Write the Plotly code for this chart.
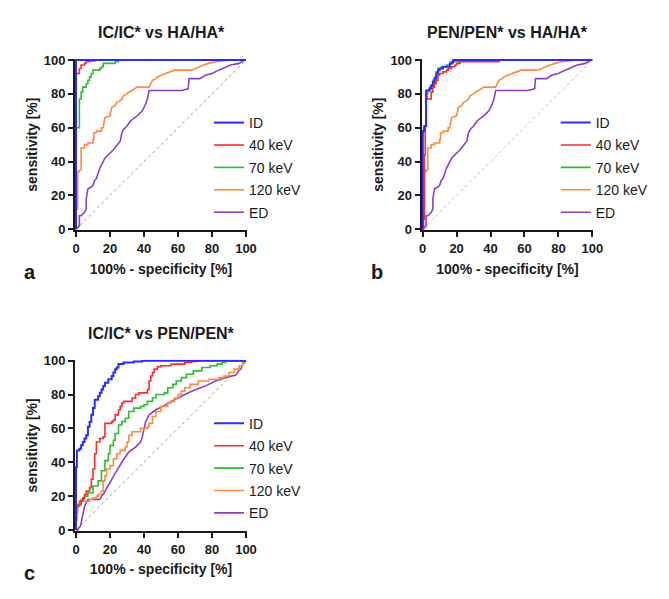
import plotly.graph_objects as go

OFF = 8  # the page body margin places the figure 8px from the window edge
W, H = 669 - OFF, 599 - OFF
PAD = 0.6  # data units of padding so lines at 0/100 are not clipped

# ---------------- data ----------------
series_names = ["ID", "40 keV", "70 keV", "120 keV", "ED"]
series_colors = ["#2B2BFF", "#FF2A2A", "#2DBE2D", "#FF8A3D", "#8E3FC8"]
tick_vals = [0, 20, 40, 60, 80, 100]
panel_titles = ["IC/IC* vs HA/HA*", "PEN/PEN* vs HA/HA*", "IC/IC* vs PEN/PEN*"]
panel_letters = ["a", "b", "c"]
diag_x = [0, 100]
diag_y = [0, 100]

# Panel a: IC/IC* vs HA/HA*
a_id_x = [0, 0, 100]
a_id_y = [0, 100, 100]
a_40_x = [0, 0, 2, 2, 3, 3, 5, 5, 6, 6, 8, 8, 11, 11, 100]
a_40_y = [0, 92, 92, 95, 95, 97, 97, 98, 98, 99, 99, 99.5, 99.5, 100, 100]
a_70_x = [0, 0, 2, 2, 3, 3, 4, 4, 6, 6, 7, 7, 8, 8, 9, 9, 10, 10, 14, 14, 15, 15, 16, 16, 23, 23, 25, 25, 100]
a_70_y = [0, 60, 60, 77, 77, 81, 81, 84, 84, 86, 86, 88, 88, 90, 90, 92, 92, 94, 94, 95, 95, 96, 96, 98, 98, 99, 99, 100, 100]
a_120_x = [0, 0, 1, 1, 2, 2, 3, 3, 5, 5, 7, 7, 10, 10, 10.5, 10.5, 12, 12, 15, 15, 16, 17, 20, 21, 23, 24, 26, 27, 28, 30, 31, 33, 36, 43, 44, 45, 47, 48, 50, 53, 56, 58, 68, 70, 72, 75, 78, 82, 86, 90, 100]
a_120_y = [0, 12, 12, 34, 34, 35, 35, 48, 48, 50, 50, 51, 51, 53, 53, 57, 57, 58, 58, 60, 60, 66, 67, 72, 73, 75, 76, 77, 79, 80, 81, 82, 84, 84, 86, 88, 89, 90, 91, 92, 93, 94, 94, 95, 96, 97, 98, 99, 99.5, 100, 100]
a_ed_x = [0, 1, 2, 2, 3, 5, 6, 6, 7, 9, 10, 11, 12, 13, 14, 17, 22, 26, 27, 28, 30, 32, 36, 39, 41, 42, 42.5, 43, 62, 66, 66.5, 73, 76, 80, 84, 88, 91, 96, 99, 100]
a_ed_y = [0, 1, 2, 8, 8, 10, 12, 18, 24, 25, 26, 29, 30, 33, 36, 42, 47, 52, 57, 59, 61, 64, 67, 70, 74, 77, 81, 82, 82, 83, 89, 89, 91, 92, 94, 96, 97, 98, 100, 100]

# Panel b: PEN/PEN* vs HA/HA*
b_id_x = [0, 0, 1, 1, 2, 2, 4, 4, 5, 5, 6, 6, 7, 7, 8, 8, 9, 9, 10, 10, 12, 12, 16, 16, 17, 17, 18, 18, 100]
b_id_y = [0, 58, 58, 61, 61, 82, 82, 83, 83, 85, 85, 87, 87, 89, 89, 92, 92, 94, 94, 95, 95, 96, 96, 98, 98, 99, 99, 100, 100]
b_40_x = [0, 0.5, 0.5, 1, 1, 1.5, 1.5, 2, 2, 5, 5, 6, 6, 7, 7, 8, 8, 9, 9, 10, 10, 12, 12, 14, 14, 15, 15, 17, 17, 19, 19, 20, 20, 22, 22, 45, 45, 100]
b_40_y = [0, 0, 6, 6, 44, 44, 61, 61, 77, 77, 81, 81, 84, 84, 86, 86, 88, 88, 91, 91, 92, 92, 93, 93, 94, 94, 95, 95, 96, 96, 97, 97, 98, 98, 99, 99, 100, 100]
b_70_x = [0, 0, 0.5, 0.5, 1, 1, 2, 2, 2.5, 2.5, 3, 3, 4, 4, 5, 5, 6, 6, 7, 7, 8, 8, 9, 9, 11, 11, 14, 14, 16, 16, 18, 18, 22, 22, 25, 25, 100]
b_70_y = [0, 57, 57, 60, 60, 61, 61, 77, 77, 80, 80, 82, 82, 84, 84, 85, 85, 88, 88, 90, 90, 93, 93, 95, 95, 96, 96, 97, 97, 98, 98, 99, 99, 99.5, 99.5, 100, 100]
b_120_x = list(a_120_x)
b_120_y = list(a_120_y)
b_ed_x = list(a_ed_x)
b_ed_y = list(a_ed_y)

# Panel c: IC/IC* vs PEN/PEN*
c_id_x = [0, 0, 0.5, 0.5, 2, 2, 3, 3, 4, 4, 5, 5, 6, 6, 7, 7, 8, 8, 9, 9, 10, 10, 11, 11, 13, 13, 14, 14, 15, 15, 16, 16, 17, 17, 19, 19, 21, 21, 22, 22, 23, 23, 24, 24, 25, 25, 28, 28, 34, 34, 39, 39, 100]
c_id_y = [0, 37, 37, 47, 47, 48, 48, 50, 50, 52, 52, 54, 54, 56, 56, 61, 61, 64, 64, 68, 68, 72, 72, 77, 77, 79, 79, 81, 81, 83, 83, 85, 85, 87, 87, 89, 89, 91, 91, 93, 93, 95, 95, 96, 96, 98, 98, 99, 99, 99.5, 99.5, 100, 100]
c_40_x = [0, 0, 2, 2, 3, 3, 4, 4, 5, 5, 6, 6, 8, 8, 9, 9, 10, 10, 11, 11, 12, 12, 14, 14, 16, 16, 17, 17, 21, 21, 22, 22, 23, 23, 25, 25, 26, 26, 27, 27, 28, 28, 33, 33, 35, 35, 37, 37, 42, 42, 43, 43, 44, 44, 45, 45, 46, 46, 48, 48, 50, 50, 56, 56, 64, 64, 68, 68, 71, 71, 100]
c_40_y = [0, 14, 14, 15, 15, 17, 17, 19, 19, 21, 21, 23, 23, 25, 25, 30, 30, 36, 36, 45, 45, 52, 52, 54, 54, 55, 55, 63, 63, 64, 64, 65, 65, 68, 68, 71, 71, 73, 73, 75, 75, 76, 76, 78, 78, 80, 80, 81, 81, 83, 83, 88, 88, 91, 91, 93, 93, 95, 95, 96.5, 96.5, 97, 97, 98, 98, 99, 99, 99.5, 99.5, 100, 100]
c_70_x = [0, 0, 0.5, 0.5, 1, 1, 2, 2, 3, 3, 5, 5, 7, 7, 10, 10, 13, 13, 15, 15, 17, 17, 19, 19, 20, 20, 22, 22, 23, 23, 25, 25, 27, 27, 29, 29, 31, 31, 34, 34, 38, 38, 40, 40, 42, 42, 45, 45, 47, 47, 52, 52, 54, 54, 57, 57, 59, 59, 62, 62, 65, 65, 69, 69, 74, 74, 79, 79, 83, 83, 86, 86, 88, 88, 100]
c_70_y = [0, 6, 6, 13, 13, 15, 15, 17, 17, 18, 18, 20, 20, 22, 22, 26, 26, 29, 29, 35, 35, 41, 41, 45, 45, 50, 50, 53, 53, 57, 57, 62, 62, 64, 64, 66, 66, 70, 70, 72, 72, 73, 73, 74, 74, 76, 76, 78, 78, 80, 80, 81, 81, 84, 84, 86, 86, 88, 88, 90, 90, 92, 92, 94, 94, 96, 96, 97, 97, 98, 98, 99, 99, 100, 100]
c_120_x = [0, 0, 1, 1, 2, 2, 8, 8, 10, 10, 12, 12, 13, 13, 15, 15, 16, 16, 17, 17, 18, 18, 20, 20, 22, 22, 24, 24, 26, 26, 29, 29, 30, 30, 31, 31, 33, 33, 38, 38, 42, 42, 43, 43, 45, 45, 47, 47, 50, 50, 54, 54, 56, 56, 58, 58, 60, 60, 62, 62, 64, 64, 67, 67, 72, 72, 78, 78, 84, 84, 87, 87, 90, 90, 93, 93, 96, 96, 98, 98, 100]
c_120_y = [0, 10, 10, 14, 14, 17, 17, 18, 18, 19, 19, 20, 20, 21, 21, 23, 23, 29, 29, 32, 32, 36, 36, 38, 38, 42, 42, 45, 45, 47, 47, 49, 49, 52, 52, 56, 56, 58, 58, 60, 60, 61, 61, 63, 63, 67, 67, 70, 70, 73, 73, 75, 75, 76, 76, 78, 78, 80, 80, 82, 82, 84, 84, 86, 86, 88, 88, 89, 89, 90, 90, 91, 91, 93, 93, 95, 95, 97, 97, 99, 99]
c_ed_x = [0, 1, 1.5, 2.5, 3, 4, 5, 6, 7, 14, 15, 16, 19, 23, 27, 31, 35, 38, 39, 40, 41, 43, 47, 51, 56, 62, 68, 76, 82, 88, 94, 96, 97, 98, 100]
c_ed_y = [0, 0, 1, 2, 4, 9, 14, 16, 18, 18, 20, 21, 26.6, 33.5, 40, 46, 49, 52, 55, 60, 64, 68, 71, 73, 76, 79, 82, 85, 88, 90, 91.5, 94.5, 95, 98, 100]

panels = [
    [(a_id_x, a_id_y), (a_40_x, a_40_y), (a_70_x, a_70_y), (a_120_x, a_120_y), (a_ed_x, a_ed_y)],
    [(b_id_x, b_id_y), (b_40_x, b_40_y), (b_70_x, b_70_y), (b_120_x, b_120_y), (b_ed_x, b_ed_y)],
    [(c_id_x, c_id_y), (c_40_x, c_40_y), (c_70_x, c_70_y), (c_120_x, c_120_y), (c_ed_x, c_ed_y)],
]
diag_colors = ["#9A9A9A", "#FFA3A3", "#9A9A9A"]

# ---------------- layout geometry (window pixels) ----------------
# (x of data 0, x of data 100, y of data 100, y of data 0)
geom = [(76, 246, 60, 229.3), (422.7, 592.3, 60, 229.3), (76, 246, 360.7, 530)]


def px(x):
    return (x - OFF) / W


def py(y):
    return 1 - (y - OFF) / H


fig = go.Figure()
font_family = "Liberation Sans, Arial, sans-serif"

for p, (curves, g) in enumerate(zip(panels, geom)):
    ax = "" if p == 0 else str(p + 1)
    leg = "legend" if p == 0 else f"legend{p + 1}"
    fig.add_trace(go.Scatter(x=diag_x, y=diag_y, mode="lines",
                             line=dict(color=diag_colors[p], width=1, dash="dot"),
                             showlegend=False, hoverinfo="skip",
                             xaxis="x" + ax, yaxis="y" + ax))
    for i in range(len(series_names) - 1, -1, -1):
        xs, ys = curves[i]
        fig.add_trace(go.Scatter(x=xs, y=ys, mode="lines", name=series_names[i],
                                 line=dict(color=series_colors[i], width=1.6 if i else 2),
                                 legend=leg, legendrank=i + 1,
                                 legendgroup=f"p{p}s{i}",
                                 xaxis="x" + ax, yaxis="y" + ax))

    x0, x1, yt, yb = g
    ux = (x1 - x0) / 100.0
    uy = (yb - yt) / 100.0
    xd = [px(x0 - PAD * ux), px(x1 + PAD * ux)]
    yd = [py(yb + PAD * uy), py(yt - PAD * uy)]
    axis_common = dict(showgrid=False, zeroline=False, showline=True, linecolor="#1a1a1a",
                       linewidth=2, ticks="outside", ticklen=5, tickwidth=2,
                       tickcolor="#1a1a1a", tickvals=tick_vals, automargin=False,
                       tickfont=dict(family=font_family, size=13, color="#1a1a1a", weight="bold"),
                       range=[-PAD, 100 + PAD], fixedrange=True)
    fig.update_layout(**{
        "xaxis" + ax: dict(domain=xd, anchor="y" + ax,
                           title=dict(text="100% - specificity [%]", standoff=9,
                                      font=dict(family=font_family, size=14, color="#1a1a1a", weight="bold")),
                           **axis_common),
        "yaxis" + ax: dict(domain=yd, anchor="x" + ax,
                           title=dict(text="sensitivity [%]", standoff=3,
                                      font=dict(family=font_family, size=14, color="#1a1a1a", weight="bold")),
                           **axis_common),
        leg: dict(x=px(x0 + 133), y=py(yt + 47), xanchor="left", yanchor="top",
                  bgcolor="rgba(0,0,0,0)", traceorder="grouped", tracegroupgap=1.2,
                  font=dict(family=font_family, size=14, color="#1a1a1a")),
    })
    # panel title
    fig.add_annotation(x=px((x0 + x1) / 2), y=py(yt - 27), xref="paper", yref="paper",
                       text=panel_titles[p], showarrow=False, xanchor="center", yanchor="middle",
                       font=dict(family=font_family, size=16, color="#1a1a1a", weight="bold"))
    # panel letter
    fig.add_annotation(x=px(x0 - 54), y=py(yb + 43), xref="paper", yref="paper",
                       text=panel_letters[p], showarrow=False, xanchor="left", yanchor="middle",
                       font=dict(family=font_family, size=20, color="#1a1a1a", weight="bold"))

fig.update_layout(width=W, height=H, margin=dict(l=0, r=0, t=0, b=0, autoexpand=False),
                  paper_bgcolor="white", plot_bgcolor="white",
                  font=dict(family=font_family, color="#1a1a1a"))

fig.write_html("out.html")
